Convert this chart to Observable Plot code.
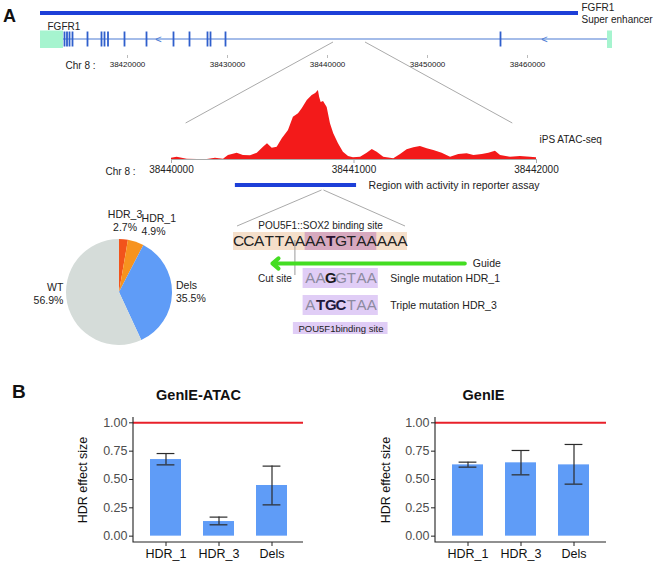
<!DOCTYPE html>
<html><head><meta charset="utf-8">
<script src="https://cdn.jsdelivr.net/npm/d3@7"></script>
<script src="https://cdn.jsdelivr.net/npm/@observablehq/plot@0.6"></script>
<style>
body{margin:0;background:#fff;font-family:"Liberation Sans",Arial,sans-serif;}
#fig{position:relative;width:655px;height:565px;overflow:hidden;background:#fff;}
.abs{position:absolute;}
svg{overflow:visible;}
.panel{position:absolute;font-weight:bold;font-size:18px;color:#111;}
</style></head>
<body><div id="fig"></div>
<script>
// ---------------- data ----------------
const geneView = [38407300, 38472800];
const geneTicks = [38420000, 38430000, 38440000, 38450000, 38460000];
const enhancer = {start: 38411300, end: 38465100};
const gene = {start: 38411300, end: 38468500};
const utrs = [{start: 38411300, end: 38413600}, {start: 38468000, end: 38468500}];
const exons = [38413700, 38413950, 38414200, 38414500, 38416000, 38417400, 38417700, 38418050,
  38419700, 38421900, 38424600, 38426200, 38428000, 38428300, 38429800, 38457300];
const strandMarks = [38423100, 38461700];

const atacStart = 38440000;
const atacTicks = [38440000, 38441000, 38442000];
const atacOffset = [0,31,86,141,196,241,285,312,360,394,433,470,504,526,552,579,607,641,668,696,716,744,771,790,805,812,820,833,853,871,889,915,942,970,997,1036,1072,1100,1127,1163,1218,1255,1291,1328,1364,1401,1437,1483,1529,1574,1620,1657,1703,1739,1775,1803,1857,1912,1967,2000];
const atacSignal = [1.3,2.3,0.3,0,0,1.3,0.3,4,6.3,4,3.7,6.3,12.3,15.7,11.3,12.3,20.7,29,42.3,45.7,50.7,59,64,66,69,62,57,58,52,35.7,25.7,15.7,7.3,3,1.7,2.3,6.3,10,7.3,2.3,0.7,5,9.7,11.7,13,10.7,9,6.3,2.3,5,5.7,4,5,6.3,8.3,4,2.3,3,2.3,1.7];
const region = {start: 38440350, end: 38441014};
const siteGenomic = 38440830;
const zoomTop = [38440600, 38443800];
const zoomBottom = [38440080, 38441870];

const wtSeq = "CCATTAAAATGTAAAAA";
const wtBold = [9];
const siteStart = 7;
const cutIndex = 6;
const guide = {from: 22.6, to: 3.8};
const hdr1Seq = "AAGGTAA", hdr1Bold = [2];
const hdr3Seq = "ATGCTAA", hdr3Bold = [1, 2, 3];

const pieLabels = ["HDR_3", "HDR_1", "Dels", "WT"];
const pieValues = [2.7, 4.9, 35.5, 56.9];
const pieColors = ["#f2541b", "#f7931e", "#5f9cf7", "#d5dcd9"];

const groups = ["HDR_1", "HDR_3", "Dels"];
const atacMean = [0.676, 0.129, 0.447];
const atacLow  = [0.629, 0.100, 0.276];
const atacHigh = [0.729, 0.168, 0.618];
const genieMean = [0.629, 0.647, 0.629];
const genieLow  = [0.609, 0.541, 0.459];
const genieHigh = [0.653, 0.756, 0.809];
const yTicks = [0, 0.25, 0.5, 0.75, 1];

// ---------------- helpers ----------------
const fig = document.getElementById("fig");
const FONT = "'Liberation Sans', Arial, sans-serif";
const baseStyle = {background: "transparent", overflow: "visible", fontFamily: FONT, color: "#222"};
function place(el, left, top) {
  const d = document.createElement("div");
  d.className = "abs"; d.style.left = left + "px"; d.style.top = top + "px";
  d.appendChild(el); fig.appendChild(d); return el;
}
function panelLabel(t, left, top, size) {
  const d = document.createElement("div");
  d.className = "panel"; d.textContent = t;
  d.style.left = left + "px"; d.style.top = top + "px"; d.style.fontSize = size + "px";
  fig.appendChild(d);
}

// ---------------- gene track ----------------
const geneP = place(Plot.plot({
  width: 655, height: 75, marginLeft: 0, marginRight: 0, marginTop: 0, marginBottom: 20,
  style: baseStyle,
  x: {domain: geneView, range: [0, 655]},
  y: {domain: ["enh", "gene"], range: [0, 52], padding: 0, axis: null},
  marks: [
    Plot.barX([enhancer], {x1: "start", x2: "end", y: () => "enh", insetTop: 11, insetBottom: 11, fill: "#1d3fd8"}),
    Plot.barX([gene], {x1: "start", x2: "end", y: () => "gene", insetTop: 12.5, insetBottom: 12.5, fill: "#4b7bd3"}),
    Plot.barX(utrs, {x1: "start", x2: "end", y: () => "gene", insetTop: 4.5, insetBottom: 4, fill: "#a6f4cf"}),
    Plot.tickX(exons, {x: d => d, y: () => "gene", insetTop: 5.5, insetBottom: 5.5, stroke: "#2f5fcc", strokeWidth: 1.8}),
    Plot.text(strandMarks, {x: d => d, y: () => "gene", text: () => "<", fill: "#4b7bd3", fontSize: 11}),
    Plot.text(["FGFR1\nSuper enhancer"], {x: () => enhancer.end, y: () => "enh", dx: 3, textAnchor: "start", fontSize: 10, lineHeight: 1.15, fill: "#222"}),
    Plot.text(["FGFR1"], {x: () => gene.start, y: () => "gene", dx: 7, dy: -12.5, textAnchor: "start", fontSize: 10, fill: "#222"}),
    Plot.axisX({ticks: geneTicks, tickFormat: d => String(d), tickSize: 3, tickPadding: 3, fontSize: 8, stroke: "#bbb", fill: "#222", label: null}),
    Plot.text(["Chr 8 :"], {frameAnchor: "bottom-left", dx: 65, dy: 10, textAnchor: "start", lineAnchor: "middle", fontSize: 10, fill: "#222"})
  ]
}), 0, 0);

// ---------------- ATAC track ----------------
const atac = atacOffset.map((o, i) => ({pos: atacStart + o, sig: atacSignal[i]}));
const atacP = place(Plot.plot({
  width: 655, height: 100, marginLeft: 171, marginRight: 119, marginTop: 10, marginBottom: 21,
  style: baseStyle,
  x: {domain: [atacTicks[0], atacTicks[2]]},
  y: {domain: [0, 69], axis: null},
  marks: [
    Plot.areaY(atac, {x: "pos", y: "sig", fill: "#f31a1a"}),
    Plot.ruleY([0], {stroke: "#aaa"}),
    Plot.axisX({ticks: atacTicks, tickFormat: d => String(d), tickSize: 4, tickPadding: 2, fontSize: 10, stroke: "#aaa", fill: "#222", label: null}),
    Plot.text(["Chr 8 :"], {frameAnchor: "bottom-left", dx: -66, dy: 12, textAnchor: "start", lineAnchor: "middle", fontSize: 10, fill: "#222"}),
    Plot.text(["iPS ATAC-seq"], {frameAnchor: "bottom-right", dx: 3, dy: -20, textAnchor: "start", lineAnchor: "middle", fontSize: 10, fill: "#222"})
  ]
}), 0, 80);

place(Plot.plot({
  width: 655, height: 10, marginLeft: 171, marginRight: 119, marginTop: 0, marginBottom: 0,
  style: baseStyle,
  x: {domain: [atacTicks[0], atacTicks[2]], axis: null},
  marks: [
    Plot.barX([region], {x1: "start", x2: "end", insetTop: 3, insetBottom: 3, fill: "#1d3fd8"}),
    Plot.text(["Region with activity in reporter assay"], {x: () => region.end, dx: 12, textAnchor: "start", fontSize: 10.5, fill: "#222"})
  ]
}), 0, 180);

// ---------------- sequence diagram ----------------
function seqRow(top, height, marks) {
  return place(Plot.plot({
    width: 655, height, marginLeft: 233, marginRight: 248, marginTop: 0, marginBottom: 0,
    style: baseStyle,
    x: {domain: [0, wtSeq.length], axis: null},
    y: {domain: [-1, 1], axis: null},
    marks
  }), 0, top);
}
function letterMarks(seq, bold, offset, normFill, boldFill, size) {
  const L = Array.from(seq, (ch, i) => ({ch, i: offset + i + 0.5, b: bold.includes(i)}));
  return [
    Plot.text(L.filter(d => !d.b), {x: "i", text: "ch", fontSize: size, fill: normFill}),
    Plot.text(L.filter(d => d.b), {x: "i", text: "ch", fontSize: size, fontWeight: "bold", fill: boldFill})
  ];
}
seqRow(219, 12, [
  Plot.text(["POU5F1::SOX2 binding site"], {x: () => wtSeq.length / 2, fontSize: 10, fill: "#222"})
]);
const wtRow = seqRow(232, 18, [
  Plot.barX([{a: 0, b: wtSeq.length}], {x1: "a", x2: "b", fill: "#f5dfca"}),
  Plot.barX([{a: siteStart, b: siteStart + 7}], {x1: "a", x2: "b", fill: "#d7a9bf"}),
  ...letterMarks(wtSeq, wtBold, 0, "#222", "#2a1030", 15.5)
]);
seqRow(240, 35, [Plot.ruleX([cutIndex], {stroke: "#9a9a9a", strokeWidth: 1})]);
seqRow(258, 10, [
  Plot.arrow([guide], {x1: "from", x2: "to", y1: () => 0, y2: () => 0, stroke: "#44dd22", strokeWidth: 4, headLength: 3, headAngle: 80}),
  Plot.text(["Guide"], {x: () => guide.from, dx: 8, textAnchor: "start", fontSize: 10.5, fill: "#222"})
]);
seqRow(268, 20, [
  Plot.barX([{a: siteStart - 0.2, b: siteStart + 7.15}], {x1: "a", x2: "b", fill: "#e0cdf6"}),
  ...letterMarks(hdr1Seq, hdr1Bold, siteStart, "#8c8aa0", "#1a1a1a", 15),
  Plot.text(["Single mutation HDR_1"], {x: () => siteStart + 7.15, dx: 12, textAnchor: "start", fontSize: 10.5, fill: "#222"}),
  Plot.text(["Cut site"], {x: () => cutIndex, dx: -3, textAnchor: "end", fontSize: 10, fill: "#222"})
]);
seqRow(295, 20, [
  Plot.barX([{a: siteStart - 0.2, b: siteStart + 7.15}], {x1: "a", x2: "b", fill: "#e0cdf6"}),
  ...letterMarks(hdr3Seq, hdr3Bold, siteStart, "#8c8aa0", "#201a3c", 15),
  Plot.text(["Triple mutation HDR_3"], {x: () => siteStart + 7.15, dx: 12, textAnchor: "start", fontSize: 10.5, fill: "#222"})
]);
seqRow(322, 12, [
  Plot.barX([{a: siteStart - 1.15, b: siteStart + 8.1}], {x1: "a", x2: "b", fill: "#e0cdf6"}),
  Plot.text(["POU5F1binding site"], {x: () => siteStart + 3.5, fontSize: 9.5, fill: "#222"})
]);

// ---------------- pie ----------------
const pieMark = (index, scales, values, dims) => {
  const cx = dims.width / 2, cy = dims.height / 2, r = 53;
  const g = d3.create("svg:g").attr("transform", `translate(${cx},${cy})`);
  const arcs = d3.pie().sort(null).value(d => d.v)(pieValues.map((v, i) => ({v, k: pieLabels[i], c: pieColors[i]})));
  const arc = d3.arc().innerRadius(0).outerRadius(r);
  g.selectAll("path").data(arcs).join("path").attr("d", arc).attr("fill", d => d.data.c);
  g.selectAll("text").data(arcs).join("text")
    .attr("font-size", 10.5).attr("fill", "#222").attr("font-family", FONT)
    .each(function(d) {
      const mid = (d.startAngle + d.endAngle) / 2;
      const share = d.data.v / 100;
      const lr = share < 0.1 ? r + 18 : r + 4;
      const s = Math.sin(mid);
      // labels on the large slices sit level with the pie centre
      const x = s * lr, y = share < 0.1 ? -Math.cos(mid) * lr : -Math.cos(mid) * lr * 0.15;
      const anchor = s > 0.3 ? "start" : s < -0.3 ? "end" : "middle";
      const el = d3.select(this).attr("text-anchor", anchor);
      el.append("tspan").attr("x", x).attr("y", y - 6.5).attr("dy", "0.35em").text(d.data.k);
      el.append("tspan").attr("x", x).attr("y", y + 6.5).attr("dy", "0.35em").text(d.data.v.toFixed(1) + "%");
    });
  return g.node();
};
place(Plot.plot({width: 238, height: 184, margin: 0, style: baseStyle, marks: [pieMark]}), 0, 200);

// ---------------- bar charts ----------------
const axisLines = (index, scales, values, dims) => {
  const {width, height, marginLeft, marginRight, marginTop, marginBottom} = dims;
  return d3.create("svg:path")
    .attr("d", `M${marginLeft},${marginTop}V${height - marginBottom}H${width - marginRight}`)
    .attr("fill", "none").attr("stroke", "#222").attr("stroke-width", 1.1).node();
};
function barPlot({left, width, marginLeft, marginRight, title, titleDx, labelDx, mean, low, high}) {
  const rows = groups.map((g, i) => ({g, m: mean[i], lo: low[i], hi: high[i]}));
  const err = {stroke: "#2b2b2b", strokeWidth: 1.2};
  return place(Plot.plot({
    width, height: 185, marginTop: 37, marginBottom: 23, marginLeft, marginRight,
    style: baseStyle,
    x: {domain: groups, paddingInner: 0.42, paddingOuter: 0.31},
    y: {domain: [-0.056, 1.047]},
    marks: [
      Plot.barY(rows, {x: "g", y: "m", fill: "#5f9cf7"}),
      Plot.ruleY([1], {stroke: "#e8202a", strokeWidth: 2}),
      Plot.ruleX(rows, {x: "g", y1: "lo", y2: "hi", ...err}),
      Plot.tickY(rows, {x: "g", y: "lo", insetLeft: 6.6, insetRight: 6.6, ...err}),
      Plot.tickY(rows, {x: "g", y: "hi", insetLeft: 6.6, insetRight: 6.6, ...err}),
      axisLines,
      Plot.axisY({ticks: yTicks, tickFormat: d => d.toFixed(2), tickSize: 4, tickPadding: 2, fontSize: 12.5, stroke: "#222", fill: "#4d4d4d", label: null}),
      Plot.axisX({tickSize: 4, tickPadding: 3, fontSize: 12.5, stroke: "#222", fill: "#111", label: null}),
      Plot.text(["HDR effect size"], {frameAnchor: "left", dx: labelDx, rotate: -90, textAnchor: "middle", lineAnchor: "middle", fontSize: 12.5, fill: "#111"}),
      Plot.text([title], {frameAnchor: "top-left", dx: titleDx, dy: -22, textAnchor: "middle", lineAnchor: "middle", fontSize: 14.5, fontWeight: "bold", fill: "#111"})
    ]
  }), left, 380);
}
barPlot({left: 0, width: 320, marginLeft: 133, marginRight: 17, title: "GenIE-ATAC", titleDx: 65, labelDx: -51,
  mean: atacMean, low: atacLow, high: atacHigh});
barPlot({left: 320, width: 335, marginLeft: 115, marginRight: 49, title: "GenIE", titleDx: 48, labelDx: -50,
  mean: genieMean, low: genieLow, high: genieHigh});

// ---------------- connectors ----------------
const gxS = geneP.scale("x"), axS = atacP.scale("x"), sxS = wtRow.scale("x");
const conn = [
  [gxS.apply(zoomTop[0]), 42, axS.apply(zoomBottom[0]), 123],
  [gxS.apply(zoomTop[1]), 42, axS.apply(zoomBottom[1]), 123],
  [axS.apply(siteGenomic) - 1, 190, sxS.apply(0) + 4, 226],
  [axS.apply(siteGenomic) + 1, 190, sxS.apply(wtSeq.length) - 2, 226]
];
const ov = d3.create("svg").attr("width", 655).attr("height", 565)
  .style("position", "absolute").style("left", "0px").style("top", "0px").style("pointer-events", "none");
ov.selectAll("line").data(conn).join("line")
  .attr("x1", d => d[0]).attr("y1", d => d[1]).attr("x2", d => d[2]).attr("y2", d => d[3])
  .attr("stroke", "#aaa").attr("stroke-width", 1);
fig.appendChild(ov.node());

panelLabel("A", 3, 6, 18);
panelLabel("B", 12, 381, 19);
</script>
</body></html>
